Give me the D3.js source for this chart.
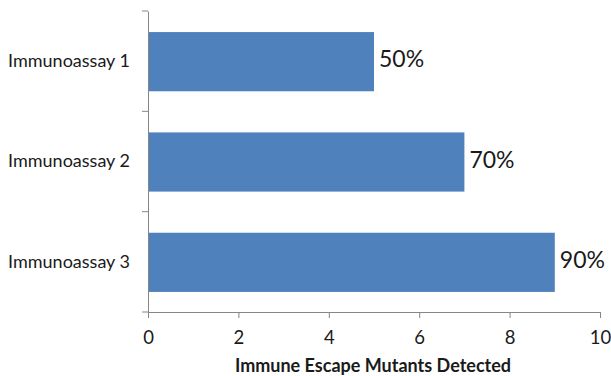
<!DOCTYPE html>
<html>
<head>
<meta charset="utf-8">
<script src="https://cdn.jsdelivr.net/npm/d3@7/dist/d3.min.js"></script>
<style>
  html, body { margin: 0; padding: 0; background: #fff; }
  svg { display: block; }
  text { font-family: Lato, "Open Sans", sans-serif; fill: #1a1a1a; }
</style>
</head>
<body>
<svg id="chart" width="611" height="376"></svg>
<script>
// Assays and number of immune escape mutants each one detected
const categories = ["Immunoassay 1", "Immunoassay 2", "Immunoassay 3"];
const detected = [5, 7, 9];
const percentLabels = ["50%", "70%", "90%"];
const xTicks = [0, 2, 4, 6, 8, 10];
const xTitle = "Immune Escape Mutants Detected";

const svg = d3.select("#chart");
const axisColor = "#868686";
const barColor = "#4f81bd";

const plotLeft = 148, plotRight = 600, plotTop = 11, plotBottom = 312;

const x = d3.scaleLinear().domain([0, 10]).range([plotLeft, plotRight]);
const y = d3.scaleBand().domain(categories).range([plotTop, plotBottom]).padding(0);
const bw = y.bandwidth();
const barInset = bw * 0.21, barH = bw * 0.59;

// bars
svg.append("g").selectAll("rect")
  .data(categories)
  .join("rect")
  .attr("x", x(0))
  .attr("y", c => y(c) + barInset)
  .attr("width", (c, i) => x(detected[i]) - x(0))
  .attr("height", barH)
  .attr("fill", barColor);

// value labels
svg.append("g").selectAll("text")
  .data(categories)
  .join("text")
  .attr("x", (c, i) => x(detected[i]) + 5)
  .attr("y", c => y(c) + bw / 2 - 2)
  .attr("dy", "0.35em")
  .style("font-size", "23px")
  .text((c, i) => percentLabels[i]);

// x axis
const xAxis = svg.append("g")
  .attr("transform", `translate(0,${plotBottom})`)
  .call(d3.axisBottom(x).tickValues(xTicks).tickSize(6).tickSizeOuter(0).tickPadding(13));
xAxis.selectAll("path, line").attr("stroke", axisColor).attr("stroke-width", 1);
xAxis.selectAll("text").style("font-size", "18.5px").style("font-family", "Lato, sans-serif").attr("fill", "#1a1a1a");

// y axis: line with ticks at category boundaries, labels at band centres
const yAxis = svg.append("g").attr("transform", `translate(${plotLeft},0)`)
  .call(d3.axisLeft(y).tickSize(0).tickPadding(18));
yAxis.select("path").attr("stroke", axisColor).attr("stroke-width", 1);
yAxis.selectAll("text").style("font-size", "18px").style("font-family", "Lato, sans-serif").attr("fill", "#1a1a1a");

const bounds = d3.range(categories.length + 1).map(i => plotTop + i * y.step());
yAxis.selectAll("line.bound")
  .data(bounds)
  .join("line")
  .attr("class", "bound")
  .attr("x1", -6).attr("x2", 0)
  .attr("y1", d => d).attr("y2", d => d)
  .attr("stroke", axisColor);

// x axis title
svg.append("text")
  .attr("x", (plotLeft + plotRight) / 2 - 1)
  .attr("y", 372)
  .attr("text-anchor", "middle")
  .style("font-size", "18px")
  .style("font-weight", "bold")
  .text(xTitle);
</script>
</body>
</html>
